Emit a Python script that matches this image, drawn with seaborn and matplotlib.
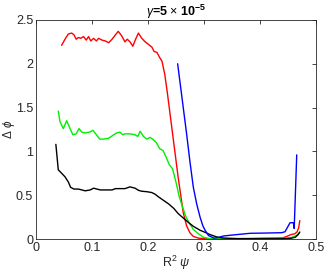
import matplotlib
matplotlib.use("Agg")
import matplotlib.pyplot as plt
import seaborn as sns
import pandas as pd

# values
red_x = [0.046, 0.052, 0.058, 0.064, 0.068, 0.072, 0.076, 0.080, 0.085, 0.090,
         0.094, 0.098, 0.103, 0.108, 0.112, 0.118, 0.124, 0.130, 0.136, 0.142,
         0.147, 0.153, 0.159, 0.163, 0.168, 0.173, 0.178, 0.183, 0.189, 0.195,
         0.201, 0.207, 0.211, 0.216, 0.221, 0.225, 0.230, 0.235, 0.240, 0.244,
         0.249, 0.254, 0.259, 0.263, 0.269, 0.275, 0.281, 0.290, 0.302, 0.320,
         0.350, 0.380, 0.410, 0.440, 0.448, 0.455, 0.462, 0.466, 0.469, 0.471]
red_y = [2.21, 2.28, 2.34, 2.35, 2.33, 2.28, 2.30, 2.29, 2.31, 2.27,
         2.31, 2.26, 2.29, 2.26, 2.29, 2.27, 2.26, 2.24, 2.28, 2.33,
         2.37, 2.32, 2.25, 2.28, 2.25, 2.20, 2.28, 2.35, 2.29, 2.25,
         2.22, 2.19, 2.14, 2.13, 2.07, 2.03, 1.88, 1.65, 1.40, 1.20,
         0.95, 0.70, 0.48, 0.30, 0.15, 0.07, 0.03, 0.01, 0.003, 0.002,
         0.004, 0.006, 0.01, 0.012, 0.03, 0.05, 0.06, 0.08, 0.13, 0.21]

green_x = [0.040, 0.043, 0.049, 0.055, 0.061, 0.066, 0.072, 0.077, 0.082, 0.088,
           0.096, 0.102, 0.108, 0.114, 0.121, 0.130, 0.139, 0.144, 0.150, 0.155,
           0.159, 0.168, 0.177, 0.182, 0.186, 0.192, 0.198, 0.204, 0.210, 0.215,
           0.221, 0.227, 0.232, 0.238, 0.244, 0.250, 0.256, 0.262, 0.268, 0.274,
           0.281, 0.290, 0.299, 0.310, 0.330, 0.360, 0.400, 0.440, 0.455, 0.465,
           0.470]
green_y = [1.46, 1.34, 1.26, 1.35, 1.26, 1.19, 1.20, 1.26, 1.22, 1.21,
           1.22, 1.24, 1.19, 1.14, 1.14, 1.15, 1.19, 1.21, 1.22, 1.19,
           1.20, 1.20, 1.19, 1.17, 1.23, 1.17, 1.14, 1.16, 1.13, 1.10,
           1.03, 1.01, 0.94, 0.85, 0.80, 0.65, 0.48, 0.36, 0.25, 0.18,
           0.11, 0.06, 0.02, 0.005, 0.002, 0.002, 0.003, 0.005, 0.015, 0.04,
           0.07]

black_x = [0.0357, 0.040, 0.046, 0.052, 0.058, 0.062, 0.068, 0.076, 0.082, 0.088,
           0.097, 0.103, 0.109, 0.115, 0.121, 0.128, 0.136, 0.142, 0.150, 0.159,
           0.168, 0.177, 0.183, 0.189, 0.198, 0.207, 0.213, 0.219, 0.228, 0.237,
           0.246, 0.254, 0.263, 0.272, 0.281, 0.293, 0.302, 0.311, 0.323, 0.335,
           0.360, 0.400, 0.440, 0.455, 0.463, 0.468, 0.471]
black_y = [1.08, 0.79, 0.75, 0.71, 0.65, 0.59, 0.57, 0.57, 0.56, 0.55,
           0.56, 0.58, 0.57, 0.56, 0.56, 0.56, 0.56, 0.575, 0.575, 0.575,
           0.595, 0.58, 0.556, 0.545, 0.54, 0.53, 0.51, 0.48, 0.44, 0.40,
           0.35, 0.29, 0.24, 0.19, 0.145, 0.10, 0.076, 0.05, 0.023, 0.011,
           0.004, 0.003, 0.003, 0.008, 0.02, 0.05, 0.08]

blue_x = [0.253, 0.261, 0.269, 0.275, 0.281, 0.287, 0.293, 0.298, 0.302, 0.308,
          0.318, 0.327, 0.3345, 0.350, 0.382, 0.410, 0.4387, 0.4446, 0.4536, 0.4595,
          0.461, 0.4655]
blue_y = [2.00, 1.60, 1.20, 0.88, 0.59, 0.40, 0.25, 0.15, 0.10, 0.04,
          0.01, 0.02, 0.034, 0.045, 0.065, 0.068, 0.072, 0.083, 0.186, 0.186,
          0.12, 0.96]

series = {"red": (red_x, red_y), "green": (green_x, green_y),
          "black": (black_x, black_y), "blue": (blue_x, blue_y)}
colors = {"red": "#ff0000", "green": "#00ee00", "black": "#000000", "blue": "#0000ff"}

rows = []
for name, (xs, ys) in series.items():
    for a, b in zip(xs, ys):
        rows.append({"s": name, "x": a, "y": b})
df = pd.DataFrame(rows)

sns.set_theme(style="white")
plt.rcParams['font.family'] = ['Liberation Sans', 'DejaVu Sans']
plt.rcParams['mathtext.fontset'] = 'custom'
plt.rcParams['mathtext.rm'] = 'Liberation Sans'
plt.rcParams['mathtext.it'] = 'Liberation Sans:italic'
plt.rcParams['mathtext.bf'] = 'Liberation Sans:bold'

fig = plt.figure(figsize=(3.32, 2.73), dpi=100)
ax = fig.add_axes([0.108, 0.1245, 0.844, 0.8025])
sns.lineplot(data=df, x="x", y="y", hue="s", palette=colors,
             estimator=None, sort=False, legend=False, linewidth=1.0, ax=ax)
for line in ax.lines:
    line.set_clip_on(False)

gray = "#262626"
ax.set_xlim(0, 0.5)
ax.set_ylim(0, 2.5)
ax.set_xticks([0, 0.1, 0.2, 0.3, 0.4, 0.5])
ax.set_xticklabels(["0", "0.1", "0.2", "0.3", "0.4", "0.5"])
ax.set_yticks([0, 0.5, 1, 1.5, 2, 2.5])
ax.set_yticklabels(["0", "0.5", "1", "1.5", "2", "2.5"])
ax.tick_params(direction="in", length=3, width=0.6, colors=gray, labelsize=9,
               top=True, right=True, pad=2)
for sp in ax.spines.values():
    sp.set_color(gray)
    sp.set_linewidth(0.6)
ax.set_xlabel(r"R$^2$ $\psi$", fontsize=9, color=gray, labelpad=0)
ax.set_ylabel(r"$\Delta$ $\phi$", fontsize=8.5, color=gray)
ax.yaxis.set_label_coords(-0.068, 0.5)
ax.set_title(r"$\gamma$=5 $\times$ 10$^{\mathbf{-5}}$", fontsize=9,
             fontweight="bold", color="black", pad=3)

plt.savefig("out.png", dpi=100)
